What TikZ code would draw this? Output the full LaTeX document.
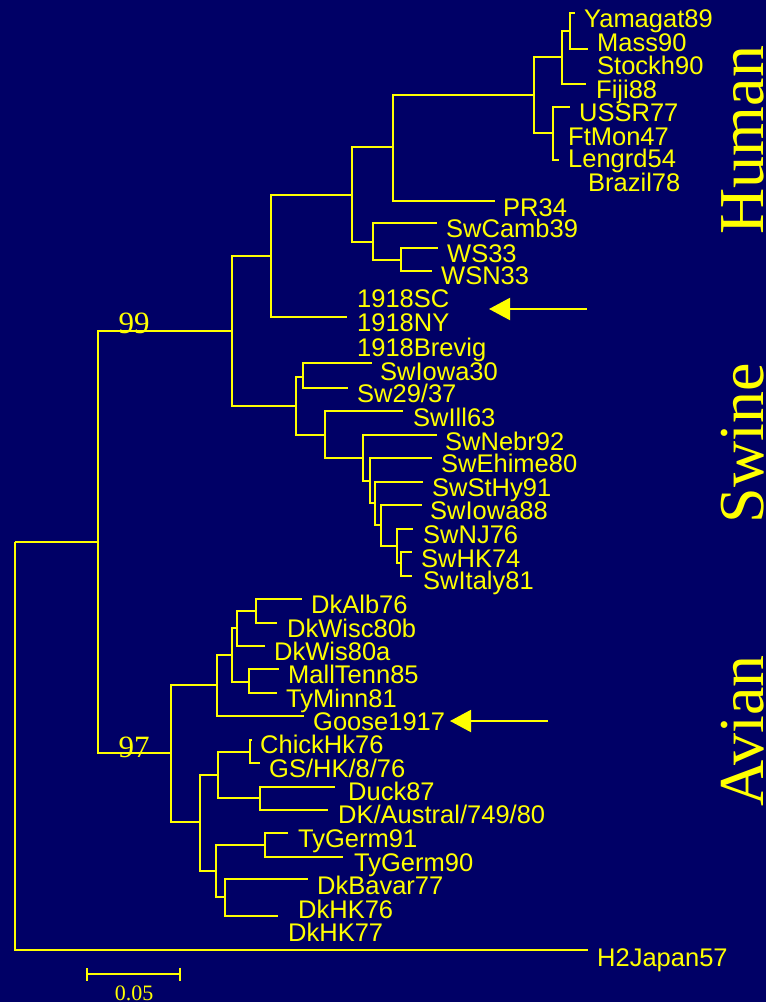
\documentclass[tikz,border=0pt]{standalone}
\usepackage{fontspec}
\setmainfont{Liberation Serif}
\newfontfamily\taxfont{Liberation Sans}
\usetikzlibrary{arrows.meta}
\definecolor{deepnavy}{HTML}{000066}
\definecolor{treeyellow}{HTML}{FFFF00}

\begin{document}
\begin{tikzpicture}[x=1pt, y=-1pt,
  branch/.style={treeyellow, line width=1.8pt},
  taxon/.style={treeyellow, anchor=base west, inner sep=0pt, font=\taxfont\fontsize{25.5}{25.5}\selectfont},
  boot/.style={treeyellow, anchor=base, inner sep=0pt, font=\fontsize{31}{31}\selectfont},
  host/.style={treeyellow, anchor=base, inner sep=0pt, rotate=90, font=\fontsize{64}{64}\selectfont},
  pointer/.style={treeyellow, line width=2pt, -{Triangle[length=21pt, width=22pt]}}]
  \fill[deepnavy] (0,0) rectangle (766,1002);
  \useasboundingbox (0,0) rectangle (766,1002);
  % internal nodes of the tree
  \coordinate (r) at (15,542);
  \coordinate (a) at (98,542);
  \coordinate (hs) at (232,331);
  \coordinate (hu) at (271,256);
  \coordinate (h1) at (352,195);
  \coordinate (h2) at (393,147);
  \coordinate (h4) at (534,95);
  \coordinate (h5) at (562,57);
  \coordinate (h7) at (570,31);
  \coordinate (h6) at (553,133);
  \coordinate (h3) at (373,242);
  \coordinate (h8) at (401,260);
  \coordinate (sw) at (296,406);
  \coordinate (s1) at (303,377);
  \coordinate (s2) at (325,435);
  \coordinate (s3) at (363,458);
  \coordinate (s4) at (370,481);
  \coordinate (s5) at (375,503);
  \coordinate (s6) at (381,525);
  \coordinate (s7) at (397,546);
  \coordinate (s8) at (401,563);
  \coordinate (av) at (171,753);
  \coordinate (v1) at (217,685);
  \coordinate (v3) at (232,655);
  \coordinate (v4) at (237,628);
  \coordinate (v6) at (256,611);
  \coordinate (v5) at (249,682);
  \coordinate (v2) at (200,822);
  \coordinate (v7) at (218,775);
  \coordinate (v9) at (250,752);
  \coordinate (v10) at (260,798);
  \coordinate (v8) at (216,871);
  \coordinate (v11) at (265,845);
  \coordinate (v12) at (225,897);
  % branch tips
  \coordinate (tYam) at (575,13);
  \coordinate (tMass) at (588,49);
  \coordinate (tFiji) at (586,84);
  \coordinate (tUSSR) at (570,107);
  \coordinate (tLen) at (559,160);
  \coordinate (tPR) at (495,201);
  \coordinate (tNY) at (347,317);
  \coordinate (tCamb) at (437,223);
  \coordinate (tWS) at (438,248);
  \coordinate (tWSN) at (432,271);
  \coordinate (tIoA) at (372,363);
  \coordinate (tSw29) at (348,388);
  \coordinate (tIll) at (403,411);
  \coordinate (tNebr) at (437,435);
  \coordinate (tEhi) at (432,458);
  \coordinate (tStHy) at (423,482);
  \coordinate (tIoB) at (422,505);
  \coordinate (tNJ) at (413,529);
  \coordinate (tHK74) at (412,552);
  \coordinate (tIta) at (412,576);
  \coordinate (tAlb) at (302,599);
  \coordinate (tWb) at (277,623);
  \coordinate (tWa) at (265,646);
  \coordinate (tMall) at (279,669);
  \coordinate (tTyM) at (277,693);
  \coordinate (tGoose) at (304,716);
  \coordinate (tChick) at (252,740);
  \coordinate (tGS) at (260,763);
  \coordinate (tDuck) at (335,787);
  \coordinate (tAus) at (328,810);
  \coordinate (tTGa) at (288,833);
  \coordinate (tTGb) at (343,857);
  \coordinate (tBav) at (308,879);
  \coordinate (tHK76) at (278,916);
  \coordinate (tJap) at (588,950);
  % branches
  \foreach \p/\c in {r/a, r/tJap, a/hs, a/av, hs/hu, hs/sw, hu/h1, hu/tNY,
      h1/h2, h1/h3, h2/h4, h2/tPR, h4/h5, h4/h6, h5/h7, h5/tFiji, h7/tYam, h7/tMass,
      h6/tUSSR, h6/tLen, h3/tCamb, h3/h8, h8/tWS, h8/tWSN,
      sw/s1, sw/s2, s1/tIoA, s1/tSw29, s2/tIll, s2/s3, s3/tNebr, s3/s4, s4/tEhi, s4/s5,
      s5/tStHy, s5/s6, s6/tIoB, s6/s7, s7/tNJ, s7/s8, s8/tHK74, s8/tIta,
      av/v1, av/v2, v1/v3, v1/tGoose, v3/v4, v3/v5, v4/v6, v4/tWa, v6/tAlb, v6/tWb,
      v5/tMall, v5/tTyM, v2/v7, v2/v8, v7/v9, v7/v10, v9/tChick, v9/tGS,
      v10/tDuck, v10/tAus, v8/v11, v8/v12, v11/tTGa, v11/tTGb, v12/tBav, v12/tHK76}
    \draw[branch] (\p) |- (\c);
  % taxon names
  \node[taxon] (lYam) at (584,27) {Yamagat89};
  \node[taxon] (lMass) at (597,51) {Mass90};
  \node[taxon] (lStock) at (597,74) {Stockh90};
  \node[taxon] (lFiji) at (596,98) {Fiji88};
  \node[taxon] (lUSSR) at (579,121) {USSR77};
  \node[taxon] (lFtMon) at (568,145) {FtMon47};
  \node[taxon] (lLen) at (568,167) {Lengrd54};
  \node[taxon] (lBraz) at (588,191) {Brazil78};
  \node[taxon] (lPR) at (503,216) {PR34};
  \node[taxon] (lCamb) at (446,237) {SwCamb39};
  \node[taxon] (lWS) at (447,262) {WS33};
  \node[taxon] (lWSN) at (441,284) {WSN33};
  \node[taxon] (lSC) at (357,307) {1918SC};
  \node[taxon] (lNY) at (357,331) {1918NY};
  \node[taxon] (lBrev) at (357,356) {1918Brevig};
  \node[taxon] (lIoA) at (380,380) {SwIowa30};
  \node[taxon] (lSw29) at (357,402) {Sw29/37};
  \node[taxon] (lIll) at (413,426) {SwIll63};
  \node[taxon] (lNebr) at (445,450) {SwNebr92};
  \node[taxon] (lEhi) at (441,472) {SwEhime80};
  \node[taxon] (lStHy) at (432,496) {SwStHy91};
  \node[taxon] (lIoB) at (430,519) {SwIowa88};
  \node[taxon] (lNJ) at (423,543) {SwNJ76};
  \node[taxon] (lHK74) at (421,567) {SwHK74};
  \node[taxon] (lIta) at (423,589) {SwItaly81};
  \node[taxon] (lAlb) at (311,613) {DkAlb76};
  \node[taxon] (lWb) at (287,637) {DkWisc80b};
  \node[taxon] (lWa) at (274,660) {DkWis80a};
  \node[taxon] (lMall) at (288,683) {MallTenn85};
  \node[taxon] (lTyM) at (286,707) {TyMinn81};
  \node[taxon] (lGoose) at (313,730) {Goose1917};
  \node[taxon] (lChick) at (260,753) {ChickHk76};
  \node[taxon] (lGS) at (269,777) {GS/HK/8/76};
  \node[taxon] (lDuck) at (348,800) {Duck87};
  \node[taxon] (lAus) at (338,823) {DK/Austral/749/80};
  \node[taxon] (lTGa) at (298,847) {TyGerm91};
  \node[taxon] (lTGb) at (354,871) {TyGerm90};
  \node[taxon] (lBav) at (317,894) {DkBavar77};
  \node[taxon] (lHK76) at (298,918) {DkHK76};
  \node[taxon] (lHK77) at (288,941) {DkHK77};
  \node[taxon] (lJap) at (597,966) {H2Japan57};
  % bootstrap values
  \node[boot] (b99) at (134,333) {99};
  \node[boot] (b97) at (134,757) {97};
  % arrows to the 1918 and 1917 strains
  \coordinate (scTail) at (587,309);
  \coordinate (scTip) at (489,309);
  \coordinate (gTail) at (548,721);
  \coordinate (gTip) at (450,721);
  \draw[pointer] (scTail) -- (scTip);
  \draw[pointer] (gTail) -- (gTip);
  % host groups
  \node[host] (human) at (763,140) {Human};
  \node[host] (swine) at (763,443) {Swine};
  \node[host] (avian) at (763,731) {Avian};
  % scale bar
  \coordinate (sbL) at (86,974);
  \coordinate (sbR) at (181,974);
  \draw[treeyellow, line width=1.8pt, {Bar[width=13pt]}-{Bar[width=13pt]}] (sbL) -- (sbR);
  \node[treeyellow, anchor=base, inner sep=0pt, font=\fontsize{22}{22}\selectfont] (sbLab) at (134,1000) {0.05};
\end{tikzpicture}
\end{document}
